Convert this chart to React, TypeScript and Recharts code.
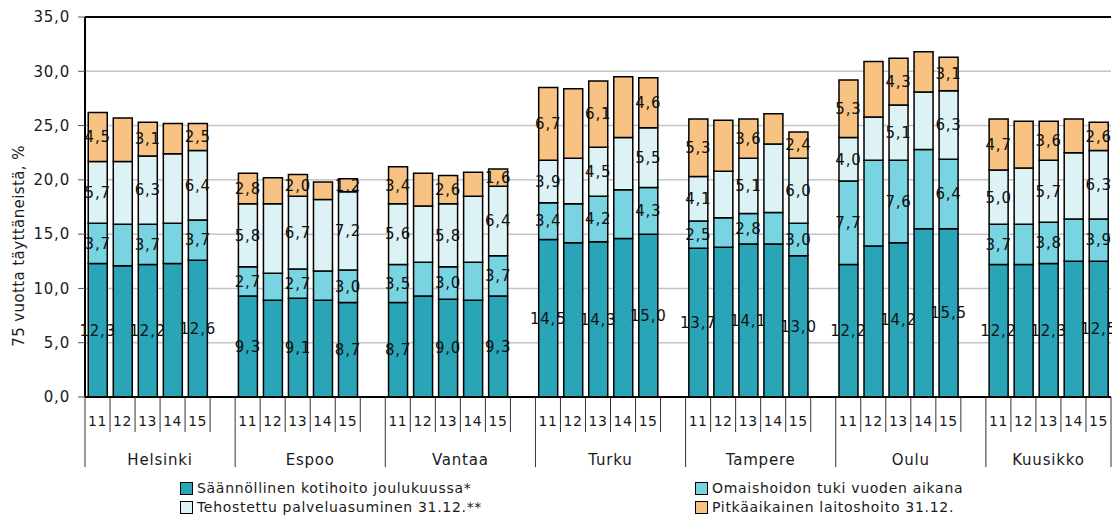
import React from 'react';
import { BarChart, Bar, XAxis, YAxis, CartesianGrid, Legend, LabelList, ReferenceLine } from 'recharts';

const cities = ['Helsinki', 'Espoo', 'Vantaa', 'Turku', 'Tampere', 'Oulu', 'Kuusikko'];
const years = ['11', '12', '13', '14', '15'];
const labeledYears = ['11', '13', '15'];

// city by city, years 11..15
const kotihoito = [
    12.3, 12.1, 12.2, 12.3, 12.6,
    9.3, 8.9, 9.1, 8.9, 8.7,
    8.7, 9.3, 9.0, 8.9, 9.3,
    14.5, 14.2, 14.3, 14.6, 15.0,
    13.7, 13.8, 14.1, 14.1, 13.0,
    12.2, 13.9, 14.2, 15.5, 15.5,
    12.2, 12.2, 12.3, 12.5, 12.5,
];
const omaishoito = [
    3.7, 3.8, 3.7, 3.7, 3.7,
    2.7, 2.5, 2.7, 2.7, 3.0,
    3.5, 3.1, 3.0, 3.5, 3.7,
    3.4, 3.6, 4.2, 4.5, 4.3,
    2.5, 2.7, 2.8, 2.9, 3.0,
    7.7, 7.9, 7.6, 7.3, 6.4,
    3.7, 3.7, 3.8, 3.9, 3.9,
];
const tehostettu = [
    5.7, 5.8, 6.3, 6.4, 6.4,
    5.8, 6.4, 6.7, 6.6, 7.2,
    5.6, 5.2, 5.8, 6.1, 6.4,
    3.9, 4.2, 4.5, 4.8, 5.5,
    4.1, 4.3, 5.1, 6.3, 6.0,
    4.0, 4.0, 5.1, 5.3, 6.3,
    5.0, 5.2, 5.7, 6.1, 6.3,
];
const laitoshoito = [
    4.5, 4.0, 3.1, 2.8, 2.5,
    2.8, 2.4, 2.0, 1.6, 1.2,
    3.4, 3.0, 2.6, 2.2, 1.6,
    6.7, 6.4, 6.1, 5.6, 4.6,
    5.3, 4.7, 3.6, 2.8, 2.4,
    5.3, 5.1, 4.3, 3.7, 3.1,
    4.7, 4.3, 3.6, 3.1, 2.6,
];

const yTicks = [0, 5, 10, 15, 20, 25, 30, 35];

const series = [
    { key: 's1', name: 'Säännöllinen kotihoito joulukuussa*', color: '#29a5b7', values: kotihoito },
    { key: 's2', name: 'Omaishoidon tuki vuoden aikana', color: '#79d4e2', values: omaishoito },
    { key: 's3', name: 'Tehostettu palveluasuminen 31.12.**', color: '#dcf2f5', values: tehostettu },
    { key: 's4', name: 'Pitkäaikainen laitoshoito 31.12.', color: '#f8c283', values: laitoshoito },
];

type Row = { key: string; city: string; year: string; groupStart: boolean; [k: string]: any };

// 5 bars per city + one empty slot between cities
const rows: Row[] = [];
cities.forEach((city, ci) => {
    years.forEach((year, yi) => {
        const row: Row = { key: `${city}-${year}`, city, year, groupStart: yi === 0 };
        series.forEach(s => {
            const v = s.values[ci * years.length + yi];
            row[s.key] = v;
            row[s.key + 'Label'] = labeledYears.includes(year) ? v : null;
        });
        rows.push(row);
    });
    if (ci < cities.length - 1) {
        rows.push({ key: `gap-${ci}`, city, year: '', groupStart: false });
    }
});

const W = 1112;
const H = 509;
const margin = { top: 9, right: 9, left: 0, bottom: 0 };
const Y_AXIS_W = 77;
const BW = (W - margin.left - margin.right - Y_AXIS_W) / rows.length;
const FONT = '"DejaVu Sans", Verdana, sans-serif';

const fmt = (v: any) => (v == null ? '' : Number(v).toFixed(1).replace('.', ','));

const CategoryTick = (props: any) => {
    const { x, y, payload } = props;
    const idx = rows.findIndex(r => r.key === payload.value);
    const row = rows[idx];
    if (!row) return null;
    const left = x - BW / 2;
    const isLast = idx === rows.length - 1;
    const groupSlots = row.city === cities[cities.length - 1] ? 5 : 6;
    return (
        <g>
            <line x1={left} y1={y} x2={left} y2={y + (row.groupStart ? 70 : 35)} stroke="#333" strokeWidth={1} />
            {isLast && <line x1={x + BW / 2} y1={y} x2={x + BW / 2} y2={y + 70} stroke="#333" strokeWidth={1} />}
            {row.year && (
                <text x={x} y={y + 29} textAnchor="middle" fontSize={14} letterSpacing={0.5} fill="#1a1a1a" fontFamily={FONT}>
                    {row.year}
                </text>
            )}
            {row.groupStart && (
                <text x={left + (groupSlots * BW) / 2} y={y + 68} textAnchor="middle" fontSize={15} letterSpacing={0.8} fill="#1a1a1a" fontFamily={FONT}>
                    {row.city}
                </text>
            )}
        </g>
    );
};

const LegendBox = () => (
    <div style={{ position: 'relative', height: 40, width: '100%', fontFamily: FONT, fontSize: 14, color: '#1a1a1a' }}>
        {series.map((s, i) => (
            <div
                key={s.key}
                style={{
                    position: 'absolute',
                    left: i % 2 === 0 ? 172 : 687,
                    top: i < 2 ? 2 : 21,
                    display: 'flex',
                    alignItems: 'center',
                    lineHeight: '18px',
                    whiteSpace: 'nowrap',
                    letterSpacing: 0.7,
                }}
            >
                <span style={{ display: 'inline-block', width: 11, height: 11, background: s.color, border: '1px solid #000', marginRight: 4 }} />
                {s.name}
            </div>
        ))}
    </div>
);

export default function App() {
    return (
        <BarChart width={W} height={H} data={rows} margin={margin} barCategoryGap="13%">
            <CartesianGrid vertical={false} stroke="#c4c4c4" strokeWidth={1.5} />
            <XAxis
                dataKey="key"
                interval={0}
                height={80}
                tickSize={0}
                tickMargin={0}
                tickLine={false}
                axisLine={{ stroke: '#000', strokeWidth: 2 }}
                tick={<CategoryTick />}
            />
            <YAxis
                width={Y_AXIS_W}
                domain={[0, 35]}
                ticks={yTicks}
                tickFormatter={fmt}
                tickSize={7}
                tickMargin={8}
                axisLine={{ stroke: '#000', strokeWidth: 2 }}
                tickLine={{ stroke: '#555' }}
                tick={{ fontSize: 15, fill: '#1a1a1a', fontFamily: FONT, letterSpacing: 0.8 }}
                label={{
                    value: '75 vuotta täyttäneistä, %',
                    content: () => (
                        <text
                            transform="translate(11,238) rotate(-90)"
                            textAnchor="middle"
                            dominantBaseline="central"
                            fontSize={15}
                            letterSpacing={0.4}
                            fill="#1a1a1a"
                            fontFamily={FONT}
                        >
                            75 vuotta täyttäneistä, %
                        </text>
                    ),
                }}
            />
            <YAxis yAxisId="frame" orientation="right" width={0} tick={false} tickLine={false} axisLine={{ stroke: '#222', strokeWidth: 2 }} domain={[0, 35]} />
            <ReferenceLine y={35} stroke="#000" strokeWidth={2} />
            {series.map(s => (
                <Bar key={s.key} dataKey={s.key} name={s.name} stackId="a" fill={s.color} stroke="#000" strokeWidth={1.5} isAnimationActive={false}>
                    <LabelList
                        dataKey={s.key + 'Label'}
                        position="center"
                        formatter={fmt}
                        style={{ fontSize: 15, fill: '#111', fontFamily: FONT, letterSpacing: 0.8 }}
                    />
                </Bar>
            ))}
            <Legend verticalAlign="bottom" content={<LegendBox />} />
        </BarChart>
    );
}
